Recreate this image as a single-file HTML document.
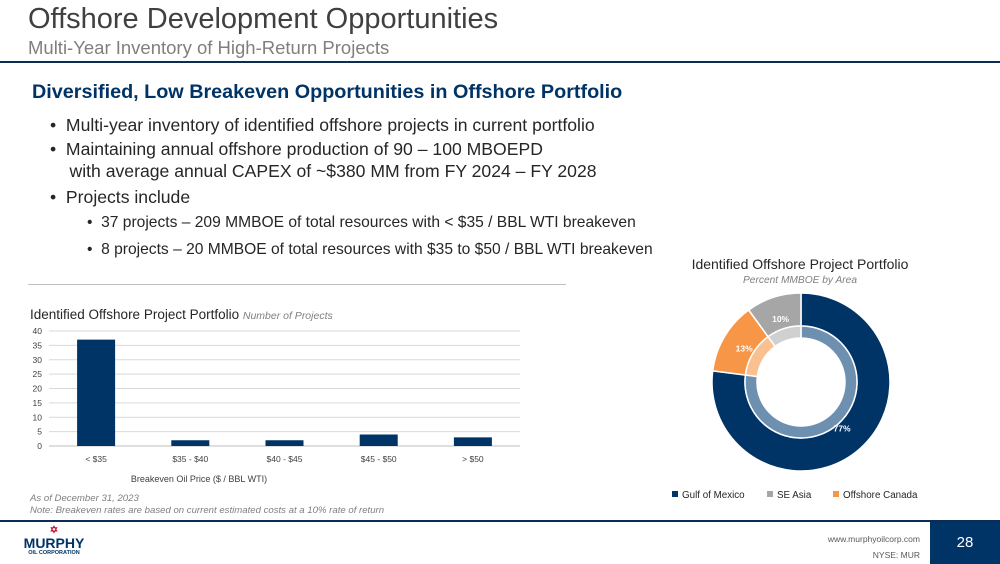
<!DOCTYPE html>
<html><head><meta charset="utf-8"><style>
body{margin:0;width:1000px;height:564px;position:relative;background:#fff;font-family:"Liberation Sans",sans-serif;overflow:hidden}
.a{position:absolute;white-space:nowrap}
</style></head><body>
<div class="a" style="left:28px;top:3px;font-size:29px;color:#404040">Offshore Development Opportunities</div>
<div class="a" style="left:28px;top:37px;font-size:18.5px;color:#7f7f7f">Multi-Year Inventory of High-Return Projects</div>
<div class="a" style="left:0;top:61px;width:1000px;height:2px;background:#0a2d56"></div>
<div class="a" style="left:32px;top:81px;font-size:19.8px;font-weight:bold;color:#003366">Diversified, Low Breakeven Opportunities in Offshore Portfolio</div>
<div class="a" style="left:50px;top:114px;font-size:17.6px;color:#262626;line-height:22px">
<div>•&nbsp;&nbsp;Multi-year inventory of identified offshore projects in current portfolio</div>
<div style="margin-top:2px">•&nbsp;&nbsp;Maintaining annual offshore production of 90 – 100 MBOEPD<br>&nbsp;&nbsp;&nbsp;&nbsp;with average annual CAPEX of ~$380 MM from FY 2024 – FY 2028</div>
<div style="margin-top:4px">•&nbsp;&nbsp;Projects include</div>
<div style="margin-top:4px;margin-left:37px;font-size:15.6px">•&nbsp;&nbsp;37 projects – 209 MMBOE of total resources with &lt; $35 / BBL WTI breakeven</div>
<div style="margin-top:5px;margin-left:37px;font-size:15.6px">•&nbsp;&nbsp;8 projects – 20 MMBOE of total resources with $35 to $50 / BBL WTI breakeven</div>
</div>
<div class="a" style="left:28px;top:284px;width:538px;height:1px;background:#bfbfbf"></div>
<svg class="a" style="left:0;top:0" width="1000" height="564" id="svg">
<text x="30" y="319" font-size="13.5" fill="#262626">Identified Offshore Project Portfolio <tspan font-size="10.5" font-style="italic" fill="#7f7f7f">Number of Projects</tspan></text>
<text x="199" y="482" font-size="9" fill="#404040" text-anchor="middle">Breakeven Oil Price ($ / BBL WTI)</text>
<text x="800" y="269" font-size="14" fill="#262626" text-anchor="middle">Identified Offshore Project Portfolio</text>
<text x="800" y="283" font-size="10.2" fill="#7f7f7f" font-style="italic" text-anchor="middle">Percent MMBOE by Area</text>
<g id="bars"></g><g id="donut"></g><g id="legend"></g>
</svg>
<div class="a" style="left:30px;top:493px;font-size:9.6px;color:#7f7f7f;font-style:italic;line-height:11.5px">As of December 31, 2023<br>Note: Breakeven rates are based on current estimated costs at a 10% rate of return</div>
<div class="a" style="left:0;top:520px;width:1000px;height:2px;background:#0a2d56"></div>
<div class="a" style="left:20px;top:526px;color:#003366;font-weight:bold;text-align:center;width:68px">
<div style="color:#c8102e;font-size:10px;line-height:10px">✡</div>
<div style="font-size:14px;line-height:14px">MURPHY</div>
<div style="font-size:5.5px;line-height:7px">OIL CORPORATION</div></div>
<div class="a" style="right:80px;top:531px;font-size:8.5px;color:#595959;text-align:right;line-height:16px">www.murphyoilcorp.com<br>NYSE: MUR</div>
<div class="a" style="left:930px;top:522px;width:70px;height:42px;background:#003366;color:#fff;font-size:15px;text-align:center;line-height:42px">28</div>
<script>
const categories=["< $35","$35 - $40","$40 - $45","$45 - $50","> $50"];
const counts=[37,2,2,4,3];
const yTicks=[0,5,10,15,20,25,30,35,40];
const areas=["Gulf of Mexico","Offshore Canada","SE Asia"];
const shares=[77,13,10];
const colors=["#003366","#f79646","#a6a6a6"];
const inner=["#6d8fb0","#fac090","#d0d0d0"];
const NS="http://www.w3.org/2000/svg";
function mk(t,a,p){const e=document.createElementNS(NS,t);for(const k in a)e.setAttribute(k,a[k]);p.appendChild(e);return e;}
const L=49,R=520,T=331,B=446,ymax=40;
const y=v=>B-(B-T)*v/ymax;
const bw=(R-L)/categories.length;
const x=i=>L+bw*(i+0.5);
const g=document.getElementById('bars');
yTicks.forEach(t=>{
 const l=mk('line',{x1:L,x2:R,y1:y(t),y2:y(t),stroke:t?'#d9d9d9':'#bfbfbf','stroke-width':1},g);
 
 const tx=mk('text',{x:42,y:y(t)+3,'font-size':8.5,fill:'#404040','text-anchor':'end'},g);tx.textContent=t;
 
});
categories.forEach((c,i)=>{
 const r=mk('rect',{x:x(i)-19,y:y(counts[i]),width:38,height:B-y(counts[i]),fill:'#003366'},g);
 
 const t=mk('text',{x:x(i),y:462,'font-size':8.5,fill:'#404040','text-anchor':'middle'},g);t.textContent=c;
 
});
const d=document.getElementById('donut');const cx=801,cy=382;
function arc(r0,r1,a0,a1){const p=(r,a)=>[cx+r*Math.sin(a),cy-r*Math.cos(a)];const lg=a1-a0>Math.PI?1:0;
const [x1,y1]=p(r1,a0),[x2,y2]=p(r1,a1),[x3,y3]=p(r0,a1),[x4,y4]=p(r0,a0);
return `M${x1},${y1}A${r1},${r1} 0 ${lg} 1 ${x2},${y2}L${x3},${y3}A${r0},${r0} 0 ${lg} 0 ${x4},${y4}Z`;}
const tot=shares.reduce((a,b)=>a+b,0);let a=0;
shares.forEach((s,i)=>{const a1=a+s/tot*2*Math.PI;
 const o=mk('path',{d:arc(56,89,a,a1),fill:colors[i],stroke:'#fff','stroke-width':1.5},d);
 
 const n=mk('path',{d:arc(44,56,a,a1),fill:inner[i],stroke:'#fff','stroke-width':1.5},d);
 
 const m=(a+a1)/2, rl=i==0?62:66;
 const t=mk('text',{x:cx+rl*Math.sin(m),y:cy-rl*Math.cos(m)+3,'font-size':8.5,'font-weight':'bold',fill:'#fff','text-anchor':'middle'},d);
 t.textContent=s+'%';
 a=a1;});
const lg=document.getElementById('legend');
const order=[0,2,1];const lx=[672,767,833];
order.forEach((k,j)=>{
 const r=mk('rect',{x:lx[j],y:491,width:6,height:6,fill:colors[k]},lg);
 
 const t=mk('text',{x:lx[j]+10,y:498,'font-size':9.8,fill:'#262626'},lg);t.textContent=areas[k];
 
});
</script>
</body></html>
